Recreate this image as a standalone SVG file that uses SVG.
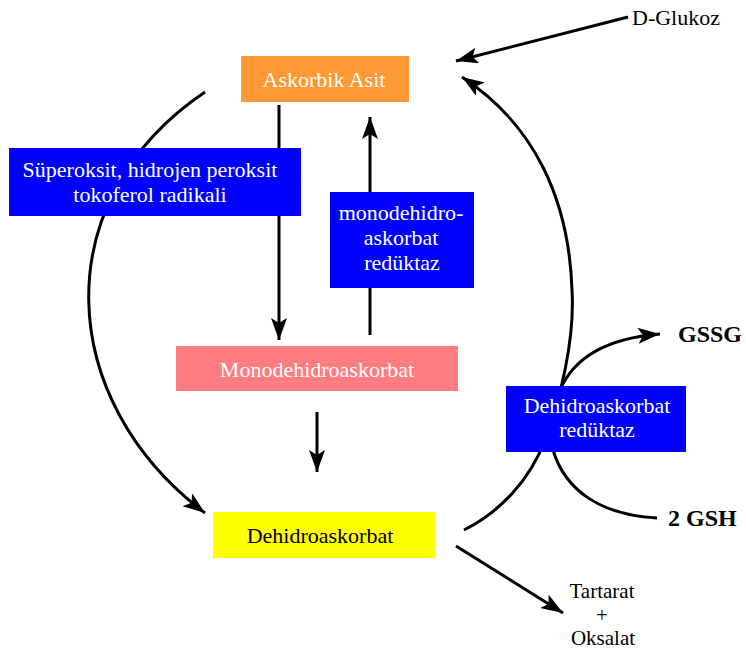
<svg xmlns="http://www.w3.org/2000/svg" width="746" height="655" viewBox="0 0 746 655">
<defs>
<marker id="ah" markerUnits="userSpaceOnUse" markerWidth="24" markerHeight="18" refX="22" refY="8" orient="auto">
<path d="M0,0 L22,8 L0,16 L5,8 z" fill="#000"/>
</marker>
<style>
.c{fill:none;stroke:#000;stroke-width:3}
.a{marker-end:url(#ah)}
.t{font-family:"Liberation Serif","Times New Roman",serif;font-size:22px;text-anchor:middle}
.w{fill:#fff}
.k{fill:#000}
.b{font-weight:bold;font-size:24px;text-anchor:start}
.s{font-size:21px}
</style>
</defs>
<rect width="746" height="655" fill="#fff"/>
<g id="connectors">
<path class="c a" d="M205,92 C45,200 55,400 205,513"/>
<path class="c a" d="M464,530 C500,512 530,480 545,440 C560,400 575,340 572,290 C569,200 535,125 462,77"/>
<path class="c a" d="M560,390 C575,355 610,338 660,334"/>
<path class="c" d="M553,450 C565,490 600,515 657,518"/>
<path class="c a" d="M628,17 L456,61"/>
<path class="c a" d="M279,105 L279,340"/>
<path class="c a" d="M370,335 L370,117"/>
<path class="c a" d="M317,412 L317,472"/>
<path class="c a" d="M456,546 L563,613"/>
</g>
<g id="askorbik">
<rect x="241" y="56" width="168" height="46" fill="#FF9933"/>
<text class="t w" x="324" y="87">Askorbik Asit</text>
</g>
<g id="superoksit">
<rect x="9" y="148" width="292" height="68" fill="#0000FF"/>
<text class="t w" x="150" y="177">Süperoksit, hidrojen peroksit</text>
<text class="t w" x="150" y="202">tokoferol radikali</text>
</g>
<g id="mdhar">
<rect x="330" y="192" width="144" height="96" fill="#0000FF"/>
<text class="t w" x="401" y="220">monodehidro-</text>
<text class="t w" x="401" y="245">askorbat</text>
<text class="t w" x="402" y="270">redüktaz</text>
</g>
<g id="monodehidroaskorbat">
<rect x="176" y="346" width="282" height="45" fill="#FF7C80"/>
<text class="t w" x="317" y="377">Monodehidroaskorbat</text>
</g>
<g id="dehidroaskorbat">
<rect x="213" y="512" width="222" height="46" fill="#FFFF00"/>
<text class="t k" x="320" y="543">Dehidroaskorbat</text>
</g>
<g id="dhar">
<rect x="506" y="386" width="180" height="66" fill="#0000FF"/>
<text class="t w" x="597" y="413">Dehidroaskorbat</text>
<text class="t w" x="597" y="437">redüktaz</text>
</g>
<g id="dglukoz">
<text class="t k" x="676" y="25">D-Glukoz</text>
</g>
<g id="gssg">
<text class="t k b" x="678" y="342">GSSG</text>
</g>
<g id="gsh">
<text class="t k b" x="668" y="526">2 GSH</text>
</g>
<g id="tartarat">
<text class="t k s" x="602" y="598">Tartarat</text>
<text class="t k s" x="602" y="622">+</text>
<text class="t k s" x="603" y="645">Oksalat</text>
</g>
</svg>
